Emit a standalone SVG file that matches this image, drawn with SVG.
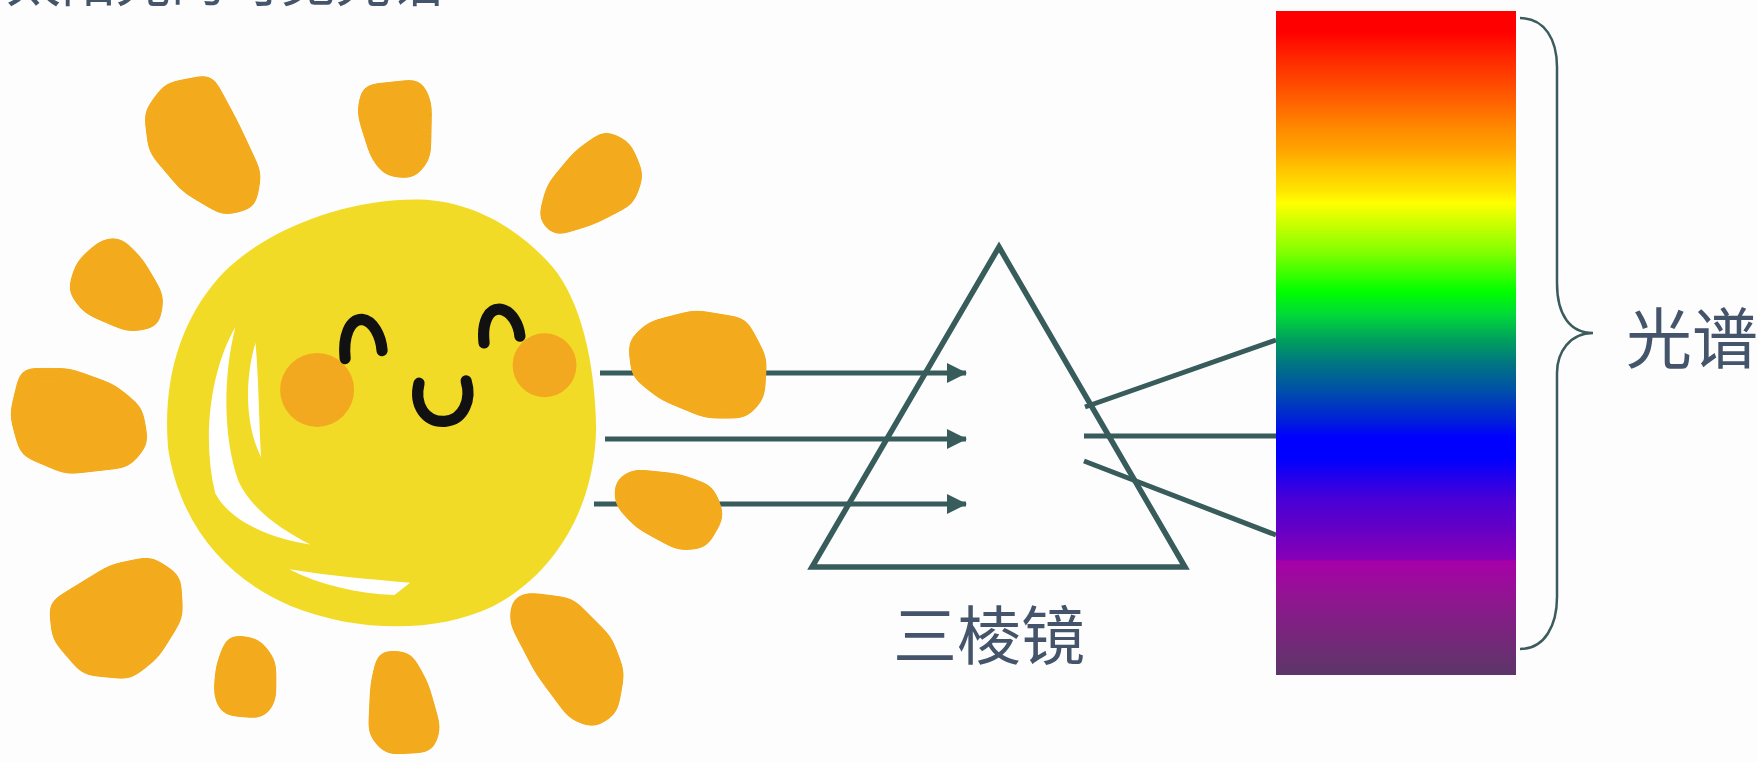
<svg xmlns="http://www.w3.org/2000/svg" width="1757" height="762" viewBox="0 0 1757 762">
  <style>
    .label { font-family: "Noto Sans CJK SC", "Noto Sans", sans-serif; fill: #44546A; }
    .ray { fill: #F3AB1D; stroke: #F3AB1D; stroke-width: 10; stroke-linejoin: round; }
    .beam { stroke: #375C5B; stroke-width: 5; fill: none; }
    .feature { stroke: #111111; stroke-width: 10; fill: none; stroke-linecap: round; }
  </style>
  <defs>
    <marker id="head" markerUnits="userSpaceOnUse" markerWidth="22" markerHeight="22" refX="19" refY="10" orient="auto">
      <path d="M0,0 L20,10 L0,20 Z" fill="#375C5B"/>
    </marker>
    <!-- rounds the corners of the ray blobs -->
    <filter id="soften" color-interpolation-filters="sRGB">
      <feGaussianBlur stdDeviation="7"/>
      <feColorMatrix type="matrix" values="1 0 0 0 0  0 1 0 0 0  0 0 1 0 0  0 0 0 24 -12"/>
    </filter>
    <linearGradient id="spectrum" gradientUnits="userSpaceOnUse" x1="0" y1="11" x2="0" y2="675">
      <stop offset="0" stop-color="#FF0000"/>
      <stop offset="0.032" stop-color="#FF0000"/>
      <stop offset="0.051" stop-color="#FF1400"/>
      <stop offset="0.081" stop-color="#FF3000"/>
      <stop offset="0.119" stop-color="#FF5200"/>
      <stop offset="0.149" stop-color="#FF6E00"/>
      <stop offset="0.179" stop-color="#FF8C00"/>
      <stop offset="0.209" stop-color="#FFA300"/>
      <stop offset="0.239" stop-color="#FFC600"/>
      <stop offset="0.270" stop-color="#FFE400"/>
      <stop offset="0.289" stop-color="#FFFF00"/>
      <stop offset="0.322" stop-color="#C8FF00"/>
      <stop offset="0.360" stop-color="#88FF00"/>
      <stop offset="0.423" stop-color="#00FF00"/>
      <stop offset="0.458" stop-color="#00D83A"/>
      <stop offset="0.495" stop-color="#00A05C"/>
      <stop offset="0.533" stop-color="#007384"/>
      <stop offset="0.571" stop-color="#0050A8"/>
      <stop offset="0.616" stop-color="#0020D8"/>
      <stop offset="0.642" stop-color="#0000FF"/>
      <stop offset="0.673" stop-color="#0000FF"/>
      <stop offset="0.736" stop-color="#4A00D6"/>
      <stop offset="0.774" stop-color="#6000C8"/>
      <stop offset="0.804" stop-color="#7800BC"/>
      <stop offset="0.827" stop-color="#8800B8"/>
      <stop offset="0.828" stop-color="#A700A8"/>
      <stop offset="0.887" stop-color="#8F1690"/>
      <stop offset="0.947" stop-color="#742879"/>
      <stop offset="1" stop-color="#5C3668"/>
    </linearGradient>
  </defs>

  <rect width="1757" height="762" fill="#FDFDFD"/>

  <!-- heading, clipped by the top edge -->
  <text class="label" x="6" y="1" font-size="55">太阳光的可见光谱</text>

  <!-- light beams -->
  <g id="connectors">
    <line class="beam" x1="600" y1="373" x2="966" y2="373" marker-end="url(#head)"/>
    <line class="beam" x1="605" y1="439" x2="966" y2="439" marker-end="url(#head)"/>
    <line class="beam" x1="594" y1="504" x2="966" y2="504" marker-end="url(#head)"/>
    <line class="beam" x1="1085" y1="407" x2="1276" y2="340"/>
    <line class="beam" x1="1084" y1="436" x2="1276" y2="436"/>
    <line class="beam" x1="1084" y1="461" x2="1276" y2="535"/>
  </g>

  <!-- sun drawing -->
  <g id="sun" transform="scale(1.1205)">
    <g id="sun-rays" filter="url(#soften)">
      <polygon class="ray" points="150,78 187,71 209,112 229,155 224,182 200,188 166,168 137,134 133,101"/>
      <polygon class="ray" points="327,80 373,75 381,92 380,140 368,155 346,153 335,139 323,101"/>
      <polygon class="ray" points="540,121 559,130 570,156 562,179 529,196 496,206 485,194 492,167 516,138"/>
      <polygon class="ray" points="92,218 106,216 124,234 142,265 138,288 115,292 78,276 65,259 72,236"/>
      <polygon class="ray" points="22,333 61,333 100,347 123,366 128,395 113,413 60,419 22,403 13,370"/>
      <polygon class="ray" points="581,291 620,281 663,288 680,320 678,354 664,369 631,369 592,353 568,334 565,306"/>
      <polygon class="ray" points="566,423 605,427 633,437 642,460 628,485 606,487 571,468 553,449 553,431"/>
      <polygon class="ray" points="48,540 100,508 134,501 157,516 159,550 138,584 115,602 76,598 51,569"/>
      <polygon class="ray" points="206,571 229,574 242,591 242,625 233,637 201,634 195,620 197,595"/>
      <polygon class="ray" points="341,585 364,586 378,611 389,650 383,667 346,669 333,654 335,611"/>
      <polygon class="ray" points="471,533 509,538 542,571 553,600 547,634 530,645 511,638 482,599 459,555 461,537"/>
    </g>

    <path d="M375,178 C425,180 465,206 493,238 C518,268 531,322 532,382 C531,452 496,512 440,541 C390,565 320,565 260,541 C200,516 160,466 150,400 C145,340 160,288 195,248 C235,204 310,177 375,178 Z" fill="#F2DB27"/>

    <path d="M210,292 C188,330 180,390 192,440 C205,465 240,480 277,486 C250,472 225,455 213,430 C200,395 198,340 210,292 Z" fill="#FFFFFF"/>
    <path d="M228,306 C218,340 219,380 233,408 C231,375 231,340 228,306 Z" fill="#FFFFFF"/>
    <path d="M258,508 C285,522 320,530 352,531 L366,520 C330,517 295,514 258,508 Z" fill="#FFFFFF"/>

    <circle cx="283" cy="348" r="33" fill="#F2A91F"/>
    <circle cx="486" cy="326" r="28.5" fill="#F2A91F"/>

    <path class="feature" d="M308,320 C306,300 312,285 323,285 C333,286 340,300 341,313"/>
    <path class="feature" d="M432,306 C430,287 436,275 447,276 C457,278 463,290 464,300"/>
    <path class="feature" d="M374,342 C369,362 380,377 397,376 C414,375 421,356 416,340"/>
  </g>

  <!-- prism -->
  <g id="prism">
    <polygon points="999,247 1185,567 812,567" fill="none" stroke="#375C5B" stroke-width="5.5" stroke-linejoin="miter"/>
    <text class="label" x="893" y="659" font-size="64">三棱镜</text>
  </g>

  <!-- spectrum band -->
  <g id="spectrum-band">
    <rect x="1276" y="11" width="240" height="664" fill="url(#spectrum)"/>
  </g>

  <!-- brace and its label -->
  <g id="spectrum-label">
    <path d="M1520,18 C1545,18 1557,40 1557,67 L1557,283 C1557,315 1570,333 1593,333 C1570,333 1557,352 1557,373 L1557,597 C1557,625 1545,649 1520,649" fill="none" stroke="#3B5B5C" stroke-width="2.5"/>
    <text class="label" x="1626" y="363" font-size="66">光谱</text>
  </g>
</svg>
